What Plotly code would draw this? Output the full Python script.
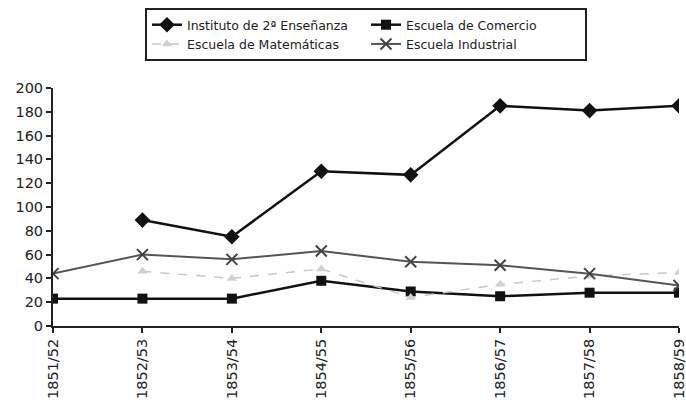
import plotly.graph_objects as go

cursos = ["1851/52", "1852/53", "1853/54", "1854/55", "1855/56", "1856/57", "1857/58", "1858/59"]
instituto = [None, 89, 75, 130, 127, 185, 181, 185]
comercio = [23, 23, 23, 38, 29, 25, 28, 28]
matematicas = [None, 46, 40, 48, 24, 35, 42, 45]
industrial = [44, 60, 56, 63, 54, 51, 44, 34]
y_ticks = [0, 20, 40, 60, 80, 100, 120, 140, 160, 180, 200]

fig = go.Figure()
fig.add_trace(go.Scatter(
    x=cursos, y=instituto, name="Instituto de 2ª Enseñanza", mode="lines+markers",
    line=dict(color="#111111", width=2.5),
    marker=dict(symbol="diamond", size=12, color="#111111")))
fig.add_trace(go.Scatter(
    x=cursos, y=comercio, name="Escuela de Comercio", mode="lines+markers",
    line=dict(color="#111111", width=2.5),
    marker=dict(symbol="square", size=10, color="#111111")))
fig.add_trace(go.Scatter(
    x=cursos, y=matematicas, name="Escuela de Matemáticas", mode="lines+markers",
    line=dict(color="#c8c8c8", width=1.5, dash="dash"),
    marker=dict(symbol="triangle-up", size=9, color="#d0d0d0")))
fig.add_trace(go.Scatter(
    x=cursos, y=industrial, name="Escuela Industrial", mode="lines+markers",
    line=dict(color="#555555", width=2),
    marker=dict(symbol="x-thin", size=11, line=dict(color="#444444", width=2))))

fig.update_layout(
    width=686, height=404,
    margin=dict(l=53, r=7, t=88, b=78),
    paper_bgcolor="white", plot_bgcolor="white",
    font=dict(family="DejaVu Sans, sans-serif", size=14, color="#222222"),
    showlegend=True,
    legend=dict(
        orientation="h", x=0.5, xanchor="center", y=0.98, yanchor="top",
        yref="container", entrywidth=174, entrywidthmode="pixels",
        bordercolor="#222222", borderwidth=2, bgcolor="white",
        font=dict(size=12.5), tracegroupgap=0, itemwidth=30,
    ),
    xaxis=dict(
        type="category", range=[0, 7], showgrid=False, zeroline=False,
        showline=True, linecolor="#222222", linewidth=2, automargin=False,
        ticks="outside", ticklen=5, tickcolor="#222222", tickwidth=2,
        tickangle=-90, tickfont=dict(size=14.5),
    ),
    yaxis=dict(
        range=[0, 200], tickvals=y_ticks, showgrid=False, zeroline=False,
        showline=True, linecolor="#222222", linewidth=2, automargin=False,
        ticks="outside", ticklen=5, tickcolor="#222222", tickwidth=2,
        tickfont=dict(size=14.5),
    ),
)

fig.write_html("out.html")
